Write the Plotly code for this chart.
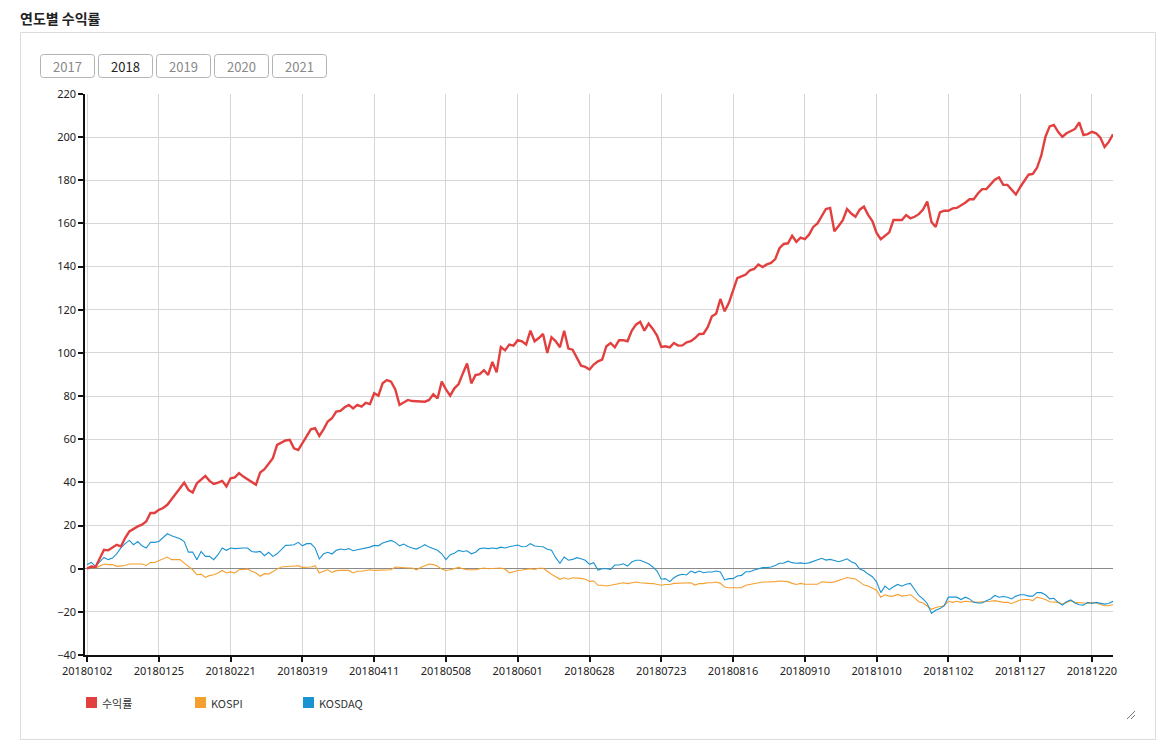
import pandas as pd
import plotly.graph_objects as go

# ---------------- data ----------------
TITLE = "연도별 수익률"
YEAR_BUTTONS = ["2017", "2018", "2019", "2020", "2021"]
ACTIVE_YEAR = "2018"
SERIES_NAMES = ["수익률", "KOSPI", "KOSDAQ"]
TICK_LABELS = ["20180102", "20180125", "20180221", "20180319", "20180411",
               "20180508", "20180601", "20180628", "20180723", "20180816",
               "20180910", "20181010", "20181102", "20181127", "20181220"]
KRX_HOLIDAYS_2018 = ["2018-01-01", "2018-02-15", "2018-02-16", "2018-03-01",
                     "2018-05-01", "2018-05-07", "2018-05-22", "2018-06-06",
                     "2018-06-13", "2018-08-15", "2018-09-24", "2018-09-25",
                     "2018-09-26", "2018-10-03", "2018-10-09", "2018-12-25",
                     "2018-12-31"]

RETURN = [
    0.0, 1.0, 0.8, 4.9, 8.8, 8.5, 10.0, 11.1, 10.3, 14.2,
    17.3, 18.5, 19.6, 20.4, 21.9, 25.8, 25.8, 27.3, 28.1, 29.6,
    31.9, 34.7, 37.3, 39.9, 36.5, 35.3, 39.6, 41.2, 43.0, 40.7,
    39.3, 39.9, 40.7, 38.1, 41.9, 42.3, 44.3, 42.7, 41.5, 40.4,
    38.9, 44.6, 46.1, 48.6, 51.2, 57.4, 58.4, 59.4, 59.7, 55.8,
    55.0, 58.1, 61.5, 64.6, 65.1, 61.5, 64.6, 68.2, 69.7, 72.8,
    73.1, 74.8, 75.9, 74.3, 75.9, 75.1, 76.9, 76.3, 81.3, 80.2,
    85.9, 87.4, 86.7, 83.1, 75.9, 76.9, 78.2, 77.7, 77.7, 77.4,
    77.4, 78.2, 80.8, 78.9, 86.7, 83.1, 80.2, 83.6, 85.6, 90.5,
    95.1, 85.9, 89.7, 90.2, 92.0, 89.8, 95.8, 91.0,
    102.8, 101.2, 103.9, 103.4, 105.9, 105.4, 103.9, 110.3, 105.4, 106.9,
    108.8, 100.0, 107.3, 105.4, 102.6, 110.3, 102.0, 101.5, 97.7, 94.1,
    93.5, 92.3, 94.6, 96.1, 96.9, 103.1, 104.6, 102.6, 105.9, 105.9,
    105.4, 110.3, 113.1, 114.4, 110.3, 113.6, 111.1, 108.0, 102.8, 103.1,
    102.6, 104.6, 103.4, 103.5, 104.9, 105.4, 106.9, 108.8, 108.9, 111.9,
    117.0, 118.2, 125.0, 119.3, 123.1, 129.3, 134.7, 135.5, 136.3, 138.3,
    138.9, 141.0, 139.8, 141.0, 141.7,
    143.5, 148.5, 150.5, 150.8, 154.3, 151.5, 153.4,
    152.7, 154.8, 158.4, 160.0, 163.5, 166.7, 167.2, 156.4, 158.8, 161.5,
    166.7, 164.6, 163.1, 166.4, 167.8, 164.0, 161.1, 155.6, 152.7, 154.5,
    155.9, 161.6, 161.6, 161.6, 163.9, 162.4, 163.1, 164.3, 166.4, 170.2,
    160.7, 158.4, 165.1, 165.9, 165.9, 167.0, 167.2, 168.3, 169.6, 171.2,
    171.2, 173.9, 175.9, 175.9, 177.9, 180.3, 181.4, 177.9, 177.9, 175.5,
    173.4, 176.8, 179.5, 182.6, 183.0, 185.8, 191.4, 200.2, 205.0, 205.7,
    202.5, 200.2, 201.8, 202.9, 203.8, 206.8, 201.0, 201.4, 202.5, 201.8,
    199.8, 195.4, 197.8, 201.3,
]

KOSPI = [
    0.3, 1.1, 0.3, 1.4, 2.2, 1.9, 1.9, 1.1, 1.4, 1.5,
    2.2, 2.2, 2.2, 2.2, 1.5, 2.9, 2.9, 3.7, 4.5, 5.4,
    4.2, 4.2, 4.2, 2.6, 1.1, -0.5, -2.8, -2.5, -4.0, -3.2,
    -2.8, -2.0, -0.8, -2.0, -1.5, -2.0, -0.5, -0.2, -0.2, -1.2,
    -2.0, -3.5, -2.3, -2.5, -1.2, -0.2, 0.8, 1.1, 1.1, 1.1,
    1.4, 0.6, 0.8, 0.8, 1.4, -2.0, -1.2, -0.5, -1.7, -0.9,
    -0.8, -0.8, -0.8, -2.0, -1.2, -1.2, -0.8, -0.5, -0.8, -0.8,
    -0.5, -0.5, -0.5, 0.8, 0.6, 0.3, 0.3, 0.3, -0.5, 0.6,
    1.4, 2.2, 1.9, 1.1, -0.2, -0.8, -0.5, 0.0, 0.6, 0.0,
    -0.5, -0.5, -0.5, 0.0, 0.3, 0.0, 0.0, 0.3, 0.3,
    -0.3, -1.9, -1.4, -0.8, -0.6, -0.3, 0.0, -0.3, 0.2, 0.2,
    -1.4, -2.6, -3.7, -4.9, -4.2, -4.9, -4.2, -4.2, -4.5, -4.9,
    -5.9, -5.7, -7.7, -7.7, -8.0, -7.7, -7.3, -6.8, -6.5, -6.9,
    -6.5, -6.2, -6.5, -6.5, -6.8, -6.9, -7.3, -7.7, -7.3, -7.3,
    -6.8, -6.8, -6.8, -6.8, -6.5, -7.6, -6.9, -6.9, -6.5, -6.5,
    -6.2, -6.8, -8.5, -8.8, -8.8, -8.8, -8.8, -7.7, -7.3, -6.8,
    -6.5, -6.2, -6.2, -6.2, -6.0, -5.7, -6.0, -6.0, -6.8, -7.3,
    -6.8, -7.2, -7.2, -7.2, -7.2, -6.1, -6.4, -6.4, -6.1, -5.6,
    -4.8, -4.1, -4.5, -4.8, -6.1, -7.6, -8.0, -8.9, -10.0, -13.2,
    -12.1, -12.7, -12.7, -11.9, -12.7, -12.4, -12.1, -13.5, -15.3, -15.9,
    -17.2, -18.8, -18.0, -17.7, -17.2, -15.1, -15.6, -15.1, -15.6, -15.1,
    -15.3, -15.6, -15.6, -15.3, -15.3, -15.1, -14.8, -15.3, -15.6, -15.6,
    -16.1, -15.3, -14.5, -14.3, -14.3, -14.8, -13.2, -13.7, -14.3, -15.3,
    -15.6, -15.6, -16.4, -15.6, -14.8, -15.6, -15.9, -15.9, -16.1, -15.6,
    -15.9, -16.4, -17.2, -17.2, -16.7,
]

KOSDAQ = [
    1.9, 2.9, 1.1, 3.4, 5.2, 4.2, 4.9, 6.9, 9.6, 11.6,
    13.1, 11.1, 12.6, 10.6, 9.6, 12.2, 12.2, 12.6, 14.2, 16.2,
    15.3, 14.6, 13.9, 12.6, 7.7, 7.7, 4.2, 8.0, 5.7, 5.7,
    4.2, 6.5, 9.6, 8.5, 9.6, 9.3, 9.6, 9.6, 9.6, 8.0,
    7.7, 8.0, 6.0, 7.6, 5.7, 6.9, 8.8, 10.8, 10.9, 11.1,
    12.2, 10.6, 11.6, 11.6, 9.6, 4.5, 6.9, 7.6, 6.8, 8.5,
    9.1, 8.8, 9.3, 8.3, 8.8, 9.1, 9.6, 10.0, 10.8, 10.6,
    11.9, 12.6, 13.1, 12.2, 10.6, 11.4, 10.3, 9.6, 9.1, 10.0,
    11.1, 10.0, 9.3, 8.5, 6.9, 4.2, 6.5, 7.2, 8.5, 8.0,
    8.3, 6.9, 7.6, 9.3, 9.6, 9.3, 9.6, 9.3, 10.0,
    9.6, 10.2, 10.5, 11.0, 10.2, 10.3, 11.6, 10.5, 10.3, 10.2,
    9.0, 8.6, 5.1, 2.5, 5.4, 3.9, 4.3, 5.1, 4.6, 3.9,
    2.0, 2.8, -0.6, 0.0, 0.0, -0.3, 1.7, 1.7, 2.3, 1.2,
    3.1, 3.9, 3.9, 3.2, 2.3, 0.8, -1.1, -4.9, -4.6, -6.0,
    -4.2, -3.1, -2.6, -2.9, -1.1, -1.9, -1.1, -1.9, -1.5, -1.5,
    -1.1, -1.5, -5.2, -4.6, -4.6, -3.4, -3.1, -1.4, -1.4, -0.6,
    0.0, 0.5, 0.5, 0.8, 1.5, 2.5, 2.5, 3.5, 2.8, 2.5,
    2.7, 2.4, 2.7, 3.5, 4.0, 4.8, 4.0, 4.3, 3.8, 3.2,
    3.8, 4.6, 3.2, 2.4, -0.2, -1.0, -2.5, -3.7, -6.1, -11.1,
    -8.1, -9.7, -8.4, -7.3, -8.1, -7.2, -6.8, -9.6, -12.4, -14.0,
    -16.1, -20.7, -19.3, -18.5, -17.2, -13.2, -13.2, -13.2, -14.3, -13.2,
    -14.0, -15.6, -15.9, -15.9, -14.8, -14.0, -12.4, -13.2, -12.9, -13.2,
    -14.0, -12.7, -12.1, -12.1, -12.7, -12.7, -11.1, -11.1, -12.1, -14.0,
    -13.7, -15.6, -16.9, -15.3, -14.5, -15.9, -16.7, -16.9, -15.6, -16.1,
    -15.6, -16.1, -16.4, -16.1, -15.1,
]

# trading days of 2018 (KRX calendar)
DATES = [d.strftime("%Y%m%d") for d in
         pd.bdate_range("2018-01-01", "2018-12-31")
         if d.strftime("%Y-%m-%d") not in KRX_HOLIDAYS_2018]

COLORS = ["#e2403f", "#f59f2e", "#1a93d1"]
WIDTHS = [2.4, 1.1, 1.1]

# ---------------- layout geometry ----------------
# The page body has an 8px margin, so the figure's top-left sits at (8, 8)
# of the window; all page-pixel positions below are converted accordingly.
OFF = 8
VIEW_W, VIEW_H = 1172, 754
FIG_W, FIG_H = VIEW_W - OFF, VIEW_H - OFF
PLOT_X0, PLOT_X1, PLOT_Y0, PLOT_Y1 = 85, 1113, 94, 655   # page pixels
L = PLOT_X0 - OFF
R = VIEW_W - PLOT_X1
T = PLOT_Y0 - OFF
B = VIEW_H - PLOT_Y1
PW = FIG_W - L - R
PH = FIG_H - T - B


def px(x):
    return (x - OFF - L) / PW


def py(y):
    return (FIG_H - B - (y - OFF)) / PH


FONT = "Noto Sans CJK KR, Noto Sans, sans-serif"

fig = go.Figure()
order = [1, 2, 0]  # red drawn on top
all_vals = [RETURN, KOSPI, KOSDAQ]
for i in order:
    vals = all_vals[i]
    fig.add_trace(go.Scatter(x=DATES[:len(vals)], y=vals, mode="lines", name=SERIES_NAMES[i],
                             line=dict(color=COLORS[i], width=WIDTHS[i]), showlegend=False))

shapes = []
annotations = []

# outer box
shapes.append(dict(type="rect", xref="paper", yref="paper",
                   x0=px(20.5), x1=px(1155.5), y0=py(739.5), y1=py(32.5),
                   line=dict(color="#dcdcdc", width=1), fillcolor="rgba(0,0,0,0)", layer="below"))

# title
annotations.append(dict(text="<b>" + TITLE + "</b>", xref="paper", yref="paper",
                        x=px(19), y=py(18), xanchor="left", yanchor="middle",
                        borderpad=0, showarrow=False,
                        font=dict(family=FONT, size=14, color="#222")))


def rrect_path(x0, y0, x1, y1, r):
    def P(x, y):
        return f"{px(x):.6f},{py(y):.6f}"
    return (f"M {P(x0 + r, y0)} L {P(x1 - r, y0)} Q {P(x1, y0)} {P(x1, y0 + r)} "
            f"L {P(x1, y1 - r)} Q {P(x1, y1)} {P(x1 - r, y1)} L {P(x0 + r, y1)} "
            f"Q {P(x0, y1)} {P(x0, y1 - r)} L {P(x0, y0 + r)} Q {P(x0, y0)} {P(x0 + r, y0)} Z")


# year buttons
bx = 40.5
for yr in YEAR_BUTTONS:
    x0, x1 = bx, bx + 54
    shapes.append(dict(type="path", xref="paper", yref="paper",
                       path=rrect_path(x0, 54.5, x1, 77.5, 3),
                       line=dict(color="#b4b4b4", width=1), fillcolor="#ffffff"))
    active = yr == ACTIVE_YEAR
    annotations.append(dict(text=yr, xref="paper", yref="paper",
                            x=px((x0 + x1) / 2), y=py(66.5), xanchor="center", yanchor="middle",
                            showarrow=False,
                            font=dict(family=FONT, size=13,
                                      color="#222" if active else "#888")))
    bx += 58

# legend (custom squares)
LEG_X = [86, 195, 303]
for name, col, lx in zip(SERIES_NAMES, COLORS, LEG_X):
    shapes.append(dict(type="rect", xref="paper", yref="paper",
                       x0=px(lx), x1=px(lx + 11), y0=py(708), y1=py(697),
                       line=dict(width=0), fillcolor=col))
    annotations.append(dict(text=name, xref="paper", yref="paper",
                            x=px(lx + 14), y=py(703), xanchor="left", yanchor="middle",
                            showarrow=False, font=dict(family=FONT, size=11, color="#333")))

# resize grip
for (a, b) in [((1127, 719), (1135, 711)), ((1131, 719), (1135, 715))]:
    shapes.append(dict(type="line", xref="paper", yref="paper",
                       x0=px(a[0]), y0=py(a[1]), x1=px(b[0]), y1=py(b[1]),
                       line=dict(color="#777", width=1)))

fig.update_layout(
    width=FIG_W, height=FIG_H,
    margin=dict(l=L, r=R, t=T, b=B, autoexpand=False),
    paper_bgcolor="white", plot_bgcolor="white",
    showlegend=False,
    shapes=shapes, annotations=annotations,
    font=dict(family=FONT, size=11, color="#222"),
    xaxis=dict(type="category", categoryorder="array", categoryarray=DATES,
               range=[-0.5, len(DATES) - 1],
               tickmode="array", tickvals=TICK_LABELS, ticktext=TICK_LABELS,
               showgrid=True, gridcolor="#d6d6d6", gridwidth=1,
               showline=True, linecolor="#111", linewidth=1.5,
               ticks="outside", ticklen=5, tickcolor="#111", tickwidth=1.5,
               tickfont=dict(family="Noto Sans, sans-serif", size=11, color="#222"),
               zeroline=False, fixedrange=True),
    yaxis=dict(range=[-40, 220], tickmode="linear", tick0=-40, dtick=20,
               showgrid=True, gridcolor="#d6d6d6", gridwidth=1,
               showline=True, linecolor="#111", linewidth=1.5,
               ticks="outside", ticklen=5, tickcolor="#111", tickwidth=1.5,
               tickfont=dict(family="Noto Sans, sans-serif", size=11, color="#222"),
               zeroline=True, zerolinecolor="#8a8a8a", zerolinewidth=1,
               fixedrange=True),
)

fig.write_html("out.html")
